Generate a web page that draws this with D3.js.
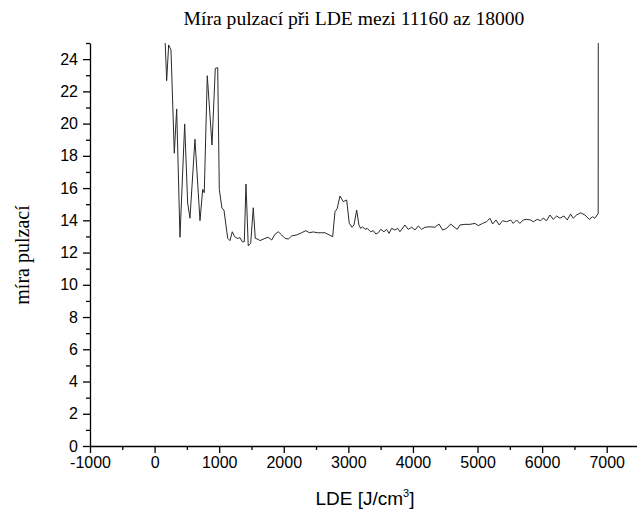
<!DOCTYPE html>
<html>
<head>
<meta charset="utf-8">
<script src="https://cdn.jsdelivr.net/npm/d3@7"></script>
<style>
  html, body { margin: 0; padding: 0; background: #fff; }
  svg { display: block; }
  .tick-label { font-family: "Liberation Sans", Arial, sans-serif; font-size: 16px; fill: #000; }
</style>
</head>
<body>
<div id="chart"></div>
<script>
// Míra pulzací vs. LDE

const TITLE = 'Míra pulzací při LDE mezi 11160 az 18000';
const Y_LABEL = 'míra pulzací';

// LDE [J/cm3]
const lde = [
  150, 187, 218, 254, 305, 342, 393, 466, 512, 548, 625, 703, 745, 769, 816, 889, 940, 977,
  1002, 1043, 1074, 1132, 1167, 1203, 1240, 1280, 1322, 1358, 1389, 1415, 1450, 1488, 1528, 1559, 1605,
  1632, 1709, 1760, 1813, 1864, 1915, 1968, 2019, 2070, 2122, 2200, 2277, 2344, 2395, 2457, 2519,
  2587, 2638, 2715, 2757, 2793, 2828, 2870, 2921, 2974, 3014, 3056, 3087, 3129, 3164, 3190, 3221,
  3257, 3293, 3345, 3386, 3427, 3463, 3500, 3551, 3593, 3629, 3670, 3721, 3763, 3799, 3876, 3927,
  3980, 4031, 4082, 4135, 4186, 4263, 4341, 4403, 4460, 4522, 4584, 4635, 4686, 4728, 4805, 4882,
  4960, 5011, 5079, 5141, 5192, 5234, 5285, 5336, 5389, 5451, 5513, 5553, 5605, 5656, 5707, 5760,
  5822, 5862, 5924, 5977, 6017, 6070, 6121, 6172, 6225, 6276, 6338, 6389, 6441, 6482, 6534, 6596,
  6663, 6730, 6781, 6817, 6868, 6870
];

// míra pulzací
const mira = [
  26.5, 22.66, 24.88, 24.57, 18.16, 20.91, 12.95, 19.98, 15.07, 14.13, 19.03, 13.98, 15.92, 15.71, 22.97, 18.67, 23.43, 23.47,
  15.92, 14.75, 14.64, 12.88, 12.74, 13.29, 12.98, 12.88, 12.92, 12.67, 12.67, 16.25, 12.41, 12.57, 14.78, 12.88, 12.82,
  12.74, 12.88, 12.95, 12.78, 13.13, 13.29, 13.09, 12.88, 12.84, 13.03, 13.09, 13.23, 13.36, 13.23, 13.28, 13.23,
  13.23, 13.23, 13.07, 12.98, 14.53, 14.74, 15.51, 15.16, 15.26, 13.82, 13.57, 13.71, 14.64, 13.71, 13.50, 13.60,
  13.44, 13.50, 13.29, 13.36, 13.15, 13.23, 13.44, 13.29, 13.44, 13.19, 13.50, 13.40, 13.50, 13.29, 13.71, 13.44,
  13.57, 13.40, 13.65, 13.44, 13.57, 13.60, 13.57, 13.77, 13.40, 13.50, 13.77, 13.60, 13.44, 13.71, 13.75, 13.75,
  13.81, 13.67, 13.81, 13.91, 14.13, 13.77, 14.02, 13.71, 13.98, 13.91, 14.02, 13.81, 14.02, 13.81, 14.02, 14.06,
  14.02, 13.91, 14.06, 13.98, 14.13, 13.98, 14.33, 14.06, 14.27, 14.13, 14.27, 14.02, 14.39, 14.13, 14.33, 14.47,
  14.33, 14.06, 14.22, 14.13, 14.43, 30
];

const X_DOMAIN = [-1000, 7500];
const Y_DOMAIN = [0, 25];
const xMajor = d3.range(-1000, 7001, 1000);
const xMinor = d3.range(-500, 7501, 1000);
const yMajor = d3.range(0, 25, 2);
const yMinor = d3.range(1, 26, 2);

const width = 637, height = 511;
const margin = { top: 43, right: -2, bottom: 65, left: 90 };

const svg = d3.select('#chart').append('svg')
  .attr('width', width).attr('height', height);

const x = d3.scaleLinear().domain(X_DOMAIN).range([margin.left, width - margin.right]);
const y = d3.scaleLinear().domain(Y_DOMAIN).range([height - margin.bottom, margin.top]);

svg.append('clipPath').attr('id', 'plot-clip')
  .append('rect')
  .attr('x', margin.left).attr('y', margin.top)
  .attr('width', width - margin.left - margin.right)
  .attr('height', height - margin.top - margin.bottom);

// Data line
const series = lde.map((v, i) => ({ x: v, y: mira[i] }));
const line = d3.line().x(d => x(d.x)).y(d => y(d.y));

svg.append('path').datum(series)
  .attr('clip-path', 'url(#plot-clip)')
  .attr('fill', 'none')
  .attr('stroke', '#2a2a2a')
  .attr('stroke-width', 1)
  .attr('stroke-linejoin', 'round')
  .attr('d', line);

// Axes: major ticks labelled, minor ticks shorter
const fmt = d => String(d); // plain "-1000", no thousands separator
const y0 = y(0);
const xAxis = svg.append('g').attr('transform', `translate(0,${y0})`);
xAxis.call(d3.axisBottom(x).tickValues(xMajor).tickFormat(fmt).tickSize(7).tickPadding(4).tickSizeOuter(0));
xAxis.append('g').call(d3.axisBottom(x).tickValues(xMinor).tickSize(4).tickFormat(''))
  .call(g => g.select('.domain').remove());

const yAxis = svg.append('g').attr('transform', `translate(${margin.left},0)`);
yAxis.call(d3.axisLeft(y).tickValues(yMajor).tickFormat(fmt).tickSize(7).tickPadding(5).tickSizeOuter(0));
yAxis.append('g').call(d3.axisLeft(y).tickValues(yMinor).tickSize(4).tickFormat(''))
  .call(g => g.select('.domain').remove());

svg.selectAll('.domain, .tick line').attr('stroke', '#000').attr('stroke-width', 1.3);
svg.selectAll('.tick text').attr('class', 'tick-label').attr('font-family', null).attr('font-size', null);

// Title and axis labels
svg.append('text')
  .attr('x', 354).attr('y', 25)
  .attr('text-anchor', 'middle')
  .attr('font-family', '"Liberation Serif", "Times New Roman", serif')
  .attr('font-size', 19.6)
  .text(TITLE);

svg.append('text')
  .attr('transform', 'translate(29,255) rotate(-90)')
  .attr('text-anchor', 'middle')
  .attr('font-family', '"Liberation Serif", "Times New Roman", serif')
  .attr('font-size', 20)
  .text(Y_LABEL);

const xl = svg.append('text')
  .attr('x', 365).attr('y', 505)
  .attr('text-anchor', 'middle')
  .attr('font-family', '"Liberation Sans", Arial, sans-serif')
  .attr('font-size', 19);
xl.append('tspan').text('LDE [J/cm');
xl.append('tspan').attr('font-size', 11).attr('dy', -8).text('3');
xl.append('tspan').attr('dy', 8).text(']');
</script>
</body>
</html>
